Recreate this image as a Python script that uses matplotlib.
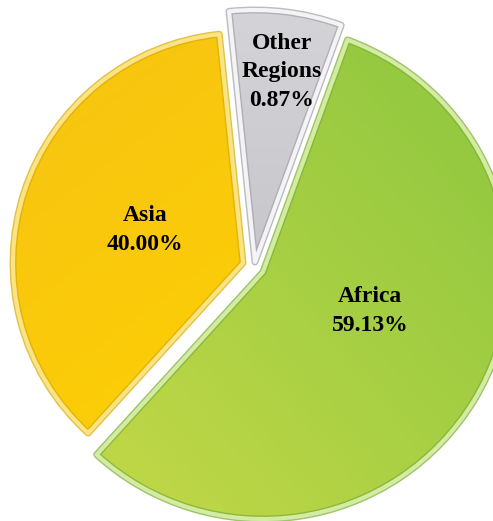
import numpy as np
import matplotlib
matplotlib.use("Agg")
import matplotlib.pyplot as plt
from matplotlib.colors import LinearSegmentedColormap
from matplotlib.patches import PathPatch

# Data
regions = ["Other\nRegions", "Asia", "Africa"]
share_labels = [0.87, 40.00, 59.13]          # percentages printed on the chart
drawn_sizes = [7.2, 36.6, 56.2]              # wedge sizes as drawn in the picture

# Styling / layout (pixel units measured from the top-left)
W, H = 493, 521
centers = [(255, 262), (243, 263), (263, 272)]
radii = [252, 230, 247]
face_a = ["#D4D4D8", "#F7C312", "#8CC63F"]   # colour at gradient end
face_b = ["#B8B8BE", "#FFD400", "#C8DA48"]   # colour at gradient start
grad_dirs = [(0, -1), (0.6, -0.8), (-0.75, -0.65)]
edge_light = ["#F4F4F6", "#FCE383", "#D3EBA2"]
edge_dark = ["#A5A5AB", "#D8AE08", "#7FB038"]
label_pos = [(282, 72), (145, 230), (370, 311)]

fig = plt.figure(figsize=(W / 100, H / 100), dpi=100)
ax = fig.add_axes([0, 0, 1, 1])

wedges, _ = ax.pie(drawn_sizes, startangle=70, counterclock=True,
                   radius=1.0, center=(0, 0), frame=True,
                   wedgeprops=dict(linewidth=0, facecolor="none"))
for w, c, r in zip(wedges, centers, radii):
    w.set_center((c[0], H - c[1]))
    w.set_radius(r)
ax.set_xlim(0, W)
ax.set_ylim(0, H)
ax.set_aspect("equal")
ax.axis("off")

for w, c, r, ca, cb, gd, el, ed in zip(wedges, centers, radii, face_a, face_b,
                                        grad_dirs, edge_light, edge_dark):
    cmap = LinearSegmentedColormap.from_list("g", [ca, cb])
    xs = np.linspace(-1, 1, 300)
    X, Y = np.meshgrid(xs, xs)
    Z = X * gd[0] + Y * gd[1]
    cx, cy = c[0], H - c[1]
    im = ax.imshow(Z, extent=(cx - r, cx + r, cy - r, cy + r), origin="lower",
                   cmap=cmap, zorder=1, interpolation="bilinear")
    im.set_clip_path(w)
    path = w.get_path().transformed(w.get_patch_transform())
    ax.add_patch(PathPatch(path, fill=False, edgecolor=ed, linewidth=5,
                           zorder=2, joinstyle="round", alpha=0.75))
    ax.add_patch(PathPatch(path, fill=False, edgecolor=el, linewidth=3,
                           zorder=3, joinstyle="round"))

for name, val, (lx, ly) in zip(regions, share_labels, label_pos):
    ax.text(lx, H - ly, f"{name}\n{val:.2f}%", ha="center", va="center",
            fontsize=17, fontweight="bold", family="Liberation Serif",
            linespacing=1.48, zorder=5, color="black")

fig.savefig("out.png", dpi=100)
